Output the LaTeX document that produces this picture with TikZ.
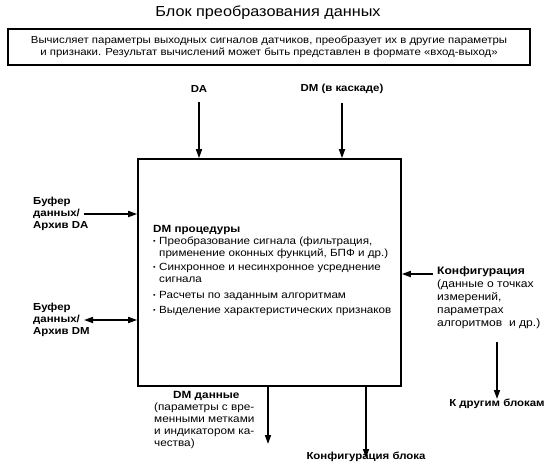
\documentclass[tikz,border=0pt]{standalone}
\usepackage{fontspec}
\setmainfont{Liberation Sans}[FakeStretch=1.12]
\usetikzlibrary{arrows.meta}

\newcommand{\dmbul}{\makebox[6pt][l]{\raisebox{1.2pt}{\fontsize{6.5}{6}\selectfont\textbullet}}}

\tikzset{
  lbl/.style={font=\fontsize{10.2}{12}\selectfont\bfseries, inner sep=0pt},
  txt/.style={font=\fontsize{10.5}{12}\selectfont, inner sep=0pt, align=left},
  arr/.style={line width=1.6pt, -{Triangle[length=9pt,width=6pt]}},
  darr/.style={line width=1.6pt, {Triangle[length=9pt,width=6pt]}-{Triangle[length=9pt,width=6pt]}}
}

\begin{document}
\begin{tikzpicture}[x=1pt,y=-1pt]

  \useasboundingbox (0,0) rectangle (550,464);

  % title and description
  \node (title) at (268,13) {\fontsize{14.5}{16}\selectfont Блок преобразования данных};
  \node[draw, line width=1.6pt, minimum width=522pt, minimum height=36pt,
        font=\fontsize{10.2}{11.5}\selectfont, align=center] (desc) at (269,47)
    {Вычисляет параметры выходных сигналов датчиков, преобразует их в другие параметры\\
     и признаки. Результат вычислений может быть представлен в формате «вход-выход»};

  % main block
  \node[draw, line width=1.6pt, minimum width=263pt, minimum height=227pt] (main) at (269.5,272.5) {};

  \node[txt, anchor=north west, font=\fontsize{10.4}{12}\selectfont] (proc) at (153,225)
    {\textbf{DM процедуры}\\
     \dmbul Преобразование сигнала (фильтрация,\\
     \hspace*{6pt}применение оконных функций, БПФ и др.)\\[2.5pt]
     \dmbul Синхронное и несинхронное усреднение\\
     \hspace*{6pt}сигнала\\[4pt]
     \dmbul Расчеты по заданным алгоритмам\\[3pt]
     \dmbul Выделение характеристических признаков};

  % inputs from above
  \node[lbl] (da) at (199,89) {DA};
  \node[lbl] (dmk) at (342,89) {DM (в каскаде)};
  \draw[arr] ([yshift=-9pt]da.south) -- (da.south |- main.north);
  \draw[arr] ([yshift=-9pt]dmk.south) -- (dmk.south |- main.north);

  % buffers on the left
  \node[lbl, align=left, anchor=west] (bufda) at (33,214) {Буфер\\данных/\\Архив DA};
  \node[lbl, align=left, anchor=west] (bufdm) at (33,320) {Буфер\\данных/\\Архив DM};
  \coordinate (bda) at (84,214);
  \coordinate (bdm) at (84,320);
  \draw[arr] (bda) -- (bda -| main.west);
  \draw[darr] (bdm) -- (bdm -| main.west);

  % configuration on the right
  \node[txt, anchor=north west, font=\fontsize{10.8}{13}\selectfont] (conf) at (437,266)
    {\textbf{Конфигурация}\\(данные о точках\\измерений,\\параметрах\\алгоритмов~ и др.)};
  \coordinate (cin) at (433,274);
  \draw[arr] (cin) -- (cin -| main.east);

  \node[lbl] (other) at (497,404) {К другим блокам};
  \draw[arr] (497,342) -- (other.north);

  % outputs below
  \node[txt, anchor=north west] (dmdata) at (154,391)
    {\hspace*{19pt}\textbf{DM данные}\\(параметры с вре-\\менными метками\\и индикатором ка-\\чества)};
  \node[lbl] (confblk) at (366,457) {Конфигурация блока};
  \draw[arr] (268,0 |- main.south) -- (268,444);
  \draw[arr] (confblk.north |- main.south) -- ([yshift=-6pt]confblk.north);

\end{tikzpicture}
\end{document}
